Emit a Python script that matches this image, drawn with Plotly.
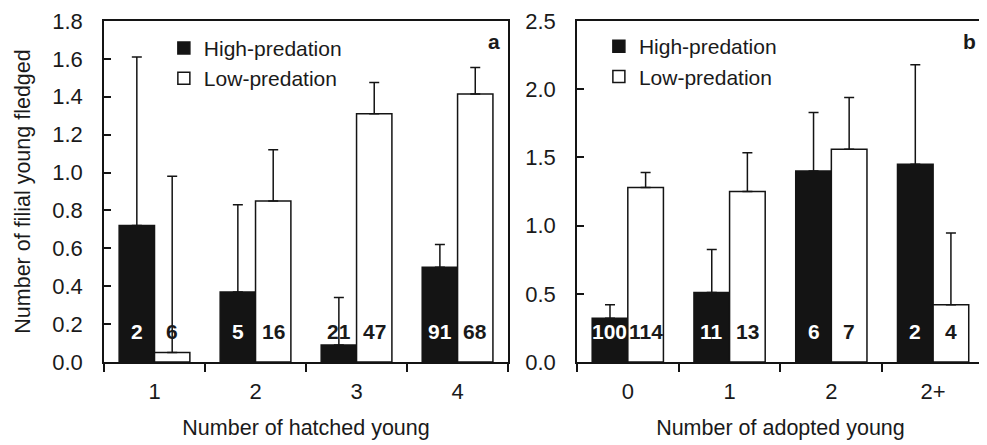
import plotly.graph_objects as go

# ---------------- data ----------------
cats_a = ["1", "2", "3", "4"]
high_a = [0.72, 0.37, 0.09, 0.50]
high_a_err = [0.89, 0.46, 0.25, 0.12]
low_a = [0.05, 0.85, 1.31, 1.415]
low_a_err = [0.93, 0.27, 0.165, 0.14]
n_high_a = [2, 5, 21, 91]
n_low_a = [6, 16, 47, 68]

cats_b = ["0", "1", "2", "2+"]
high_b = [0.32, 0.51, 1.40, 1.45]
high_b_err = [0.10, 0.315, 0.43, 0.73]
low_b = [1.28, 1.25, 1.56, 0.42]
low_b_err = [0.11, 0.285, 0.38, 0.525]
n_high_b = [100, 11, 6, 2]
n_low_b = [114, 13, 7, 4]

series_names = ["High-predation", "Low-predation"]
y_title = "Number of filial young fledged"
x_title_a = "Number of hatched young"
x_title_b = "Number of adopted young"

# ---------------- style ----------------
FONT = "Liberation Sans, Arial, Helvetica, sans-serif"
FS = 21
FS_TICK = 22
FS_TITLE = 21.5
TXT = "#1a1a1a"
BLACK = "#141414"
OFF = 8  # page body margin of the html page
W, H = 987 - OFF, 445 - OFF
ML, MR, MT, MB = 104 - OFF, 1, 18 - OFF, 83
BARGAP = 0.3
plot_h = H - MT - MB
plot_w = W - ML - MR

fig = go.Figure()


def add_panel(cats, hi, hi_e, lo, lo_e, xa, ya, legend):
    for name, vals, errs, fill in [
        (series_names[0], hi, hi_e, BLACK),
        (series_names[1], lo, lo_e, "white"),
    ]:
        fig.add_trace(go.Bar(
            x=cats, y=vals, name=name, xaxis=xa, yaxis=ya, legend=legend,
            marker=dict(color=fill, line=dict(color=BLACK, width=1.5)),
            error_y=dict(type="data", symmetric=False, array=errs,
                         arrayminus=[0] * len(errs), color=BLACK,
                         thickness=1.5, width=5),
            hoverinfo="skip",
        ))


add_panel(cats_a, high_a, high_a_err, low_a, low_a_err, "x", "y", "legend")
add_panel(cats_b, high_b, high_b_err, low_b, low_b_err, "x2", "y2", "legend2")

# sample-size labels
off = (1 - BARGAP) / 4
for (hi, lo, nh, nl, xr, yr, ymax) in [
    (high_a, low_a, n_high_a, n_low_a, "x", "y", 1.8),
    (high_b, low_b, n_high_b, n_low_b, "x2", "y2", 2.5),
]:
    per_px = ymax / plot_h
    thresh = (30 + 9) * per_px
    for i in range(len(hi)):
        for val, n, sgn in [(hi[i], nh[i], -1), (lo[i], nl[i], 1)]:
            col = "white" if (sgn < 0 and val > thresh) else TXT
            fig.add_annotation(
                x=i + sgn * off, y=0, xref=xr, yref=yr, yshift=31,
                text=f"<b>{n}</b>", showarrow=False,
                font=dict(family=FONT, size=FS, color=col),
                xanchor="center", yanchor="middle",
            )

# panel letters
fig.add_annotation(x=0.985, y=0.94, xref="x domain", yref="y domain",
                   text="<b>a</b>", showarrow=False, xanchor="right",
                   yanchor="middle", font=dict(family=FONT, size=FS, color=TXT))
fig.add_annotation(x=0.985, y=0.94, xref="x2 domain", yref="y2 domain",
                   text="<b>b</b>", showarrow=False, xanchor="right",
                   yanchor="middle", font=dict(family=FONT, size=FS, color=TXT))

dom_a = [0, (509 - 104) / plot_w]
dom_b = [(578 - 104) / plot_w, 1]

xcommon = dict(type="category", tickson="boundaries", ticks="outside",
               ticklen=8, tickwidth=1.5, tickcolor=BLACK,
               showline=True, linecolor=BLACK, linewidth=1.5, mirror=True,
               showgrid=False, zeroline=False, ticklabelstandoff=9,
               tickfont=dict(family=FONT, size=FS_TICK, color=TXT))
ycommon = dict(ticks="inside", ticklen=7, tickwidth=1.5, tickcolor=BLACK,
               showline=True, linecolor=BLACK, linewidth=1.5, mirror=True,
               showgrid=False, zeroline=False, tickformat=".1f",
               ticklabelstandoff=15, ticklabeloverflow="allow",
               tickfont=dict(family=FONT, size=FS_TICK, color=TXT))

legcommon = dict(font=dict(family=FONT, size=FS, color=TXT),
                 bgcolor="rgba(0,0,0,0)", xanchor="left", yanchor="top",
                 tracegroupgap=0, itemwidth=30)

fig.update_layout(
    width=W, height=H,
    margin=dict(l=ML, r=MR, t=MT, b=MB, pad=0),
    paper_bgcolor="white", plot_bgcolor="white",
    barmode="group", bargap=BARGAP, bargroupgap=0,
    font=dict(family=FONT, size=FS, color=TXT),
    xaxis=dict(domain=dom_a, anchor="y",
               title=dict(text=x_title_a, standoff=17,
                          font=dict(family=FONT, size=FS_TITLE, color=TXT)),
               **xcommon),
    xaxis2=dict(domain=dom_b, anchor="y2",
                title=dict(text=x_title_b, standoff=17,
                           font=dict(family=FONT, size=FS_TITLE, color=TXT)),
                **xcommon),
    yaxis=dict(domain=[0, 1], anchor="x", range=[0, 1.8], dtick=0.2,
               title=dict(text=y_title, standoff=16,
                          font=dict(family=FONT, size=FS_TITLE, color=TXT)),
               **ycommon),
    yaxis2=dict(domain=[0, 1], anchor="x2", range=[0, 2.5], dtick=0.5,
                **ycommon),
    legend=dict(x=(164 - 104) / plot_w, y=0.98, **legcommon),
    legend2=dict(x=(600 - 104) / plot_w, y=0.985, **legcommon),
    showlegend=True,
)

fig.write_html("out.html")
